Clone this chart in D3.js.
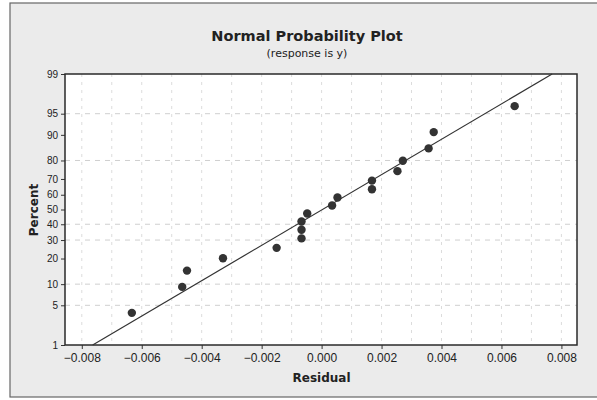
<!DOCTYPE html>
<html>
<head>
<meta charset="utf-8">
<script src="https://cdn.jsdelivr.net/npm/d3@7"></script>
<style>
  body { margin: 0; background: #fff; }
  svg { display: block; font-family: "DejaVu Sans", Verdana, sans-serif; }
</style>
</head>
<body>
<div id="chart"></div>
<script>
// residuals, sorted, and their plotted percents
var residuals = [-0.00633, -0.00465, -0.00449, -0.00329, -0.00150, -0.00067, -0.00067, -0.00067,
    -0.00048, 0.00035, 0.00053, 0.00168, 0.00168, 0.00253, 0.00271, 0.00357, 0.00374, 0.00644];
var percents = [3.8, 9.2, 14.7, 20.1, 25.5, 31.0, 36.4, 41.8, 47.3, 52.7, 58.2, 63.6, 69.0, 74.5,
    79.9, 85.3, 90.8, 96.2];
var xTicks = [-0.008, -0.006, -0.004, -0.002, 0.000, 0.002, 0.004, 0.006, 0.008];
var xGrid = [-0.008, -0.007, -0.006, -0.005, -0.004, -0.003, -0.002, -0.001, 0, 0.001, 0.002,
    0.003, 0.004, 0.005, 0.006, 0.007, 0.008];
var yTicks = [1, 5, 10, 20, 30, 40, 50, 60, 70, 80, 90, 95, 99];
var yGrid = [5, 10, 30, 40, 80, 95];

var svgWidth = 597, svgHeight = 400;
var margins = { top: 74, bottom: 55, left: 65, right: 20 };

// inverse normal cdf (Acklam)
function probit(p) {
    var a = [-39.69683028665376, 220.9460984245205, -275.9285104469687, 138.3577518672690, -30.66479806614716, 2.506628277459239];
    var b = [-54.47609879822406, 161.5858368580409, -155.6989798598866, 66.80131188771972, -13.28068155288572];
    var c = [-0.007784894002430293, -0.3223964580411365, -2.400758277161838, -2.549732539343734, 4.374664141464968, 2.938163982698783];
    var d = [0.007784695709041462, 0.3224671290700398, 2.445134137142996, 3.754408661907416];
    var q, r;
    if (p < 0.02425) {
        q = Math.sqrt(-2 * Math.log(p));
        return (((((c[0]*q+c[1])*q+c[2])*q+c[3])*q+c[4])*q+c[5]) / ((((d[0]*q+d[1])*q+d[2])*q+d[3])*q+1);
    }
    if (p > 1 - 0.02425) {
        q = Math.sqrt(-2 * Math.log(1 - p));
        return -(((((c[0]*q+c[1])*q+c[2])*q+c[3])*q+c[4])*q+c[5]) / ((((d[0]*q+d[1])*q+d[2])*q+d[3])*q+1);
    }
    q = p - 0.5; r = q * q;
    return (((((a[0]*r+a[1])*r+a[2])*r+a[3])*r+a[4])*r+a[5])*q / (((((b[0]*r+b[1])*r+b[2])*r+b[3])*r+b[4])*r+1);
}

var svg = d3.select("#chart").append("svg")
    .attr("width", svgWidth)
    .attr("height", svgHeight);

// outer panel
svg.append("rect")
    .attr("x", 10).attr("y", 3)
    .attr("width", 600).attr("height", 394)
    .attr("fill", "#ebebeb")
    .attr("stroke", "#666")
    .attr("stroke-width", 1.2);

var plotW = svgWidth - margins.left - margins.right;
var plotH = svgHeight - margins.top - margins.bottom;

var xScale = d3.scaleLinear()
    .domain([-0.00856, 0.00852])
    .range([margins.left, margins.left + plotW]);
var yScale = d3.scaleLinear()
    .domain([probit(0.01), probit(0.99)])
    .range([margins.top + plotH, margins.top]);

svg.append("rect")
    .attr("x", margins.left).attr("y", margins.top)
    .attr("width", plotW).attr("height", plotH)
    .attr("fill", "#fff");

// grid
svg.append("g").selectAll("line")
    .data(xGrid)
    .enter()
    .append("line")
    .attr("x1", d => xScale(d)).attr("x2", d => xScale(d))
    .attr("y1", margins.top).attr("y2", margins.top + plotH)
    .attr("stroke", "#dcdcdc")
    .attr("stroke-dasharray", "3,5");
svg.append("g").selectAll("line")
    .data(yGrid)
    .enter()
    .append("line")
    .attr("x1", margins.left).attr("x2", margins.left + plotW)
    .attr("y1", d => yScale(probit(d / 100))).attr("y2", d => yScale(probit(d / 100)))
    .attr("stroke", "#cfcfcf")
    .attr("stroke-dasharray", "5,5");

// axes
var xAxis = d3.axisBottom(xScale)
    .tickValues(xTicks)
    .tickSize(4)
    .tickFormat(d3.format(".3f"));
var yAxis = d3.axisLeft(yScale)
    .tickValues(yTicks.map(p => probit(p / 100)))
    .tickSize(4)
    .tickFormat((d, i) => yTicks[i]);

svg.append("g")
    .attr("transform", `translate(0,${margins.top + plotH})`)
    .call(xAxis)
    .call(g => g.select(".domain").remove())
    .call(g => g.selectAll("line").attr("stroke", "#333"))
    .call(g => g.selectAll("text").attr("fill", "#222").style("font-size", "12px").attr("dy", "0.85em"));
svg.append("g")
    .attr("transform", `translate(${margins.left},0)`)
    .call(yAxis)
    .call(g => g.select(".domain").remove())
    .call(g => g.selectAll("line").attr("stroke", "#333"))
    .call(g => g.selectAll("text").attr("fill", "#222").style("font-size", "10px"));

svg.append("rect")
    .attr("x", margins.left).attr("y", margins.top)
    .attr("width", plotW).attr("height", plotH)
    .attr("fill", "none")
    .attr("stroke", "#2a2a2a")
    .attr("stroke-width", 1.5);

// fitted line from mean and standard deviation
var mu = d3.mean(residuals), sd = d3.deviation(residuals);
var zLo = probit(0.01), zHi = probit(0.99);
svg.append("line")
    .attr("x1", xScale(mu + sd * zLo)).attr("y1", yScale(zLo))
    .attr("x2", xScale(mu + sd * zHi)).attr("y2", yScale(zHi))
    .attr("stroke", "#333")
    .attr("stroke-width", 1.2);

// points
svg.append("g").selectAll("circle")
    .data(residuals)
    .enter()
    .append("circle")
    .attr("cx", d => xScale(d))
    .attr("cy", (d, i) => yScale(probit(percents[i] / 100)))
    .attr("r", 4.2)
    .attr("fill", "#333");

// titles
svg.append("text")
    .attr("x", 307).attr("y", 41)
    .style("text-anchor", "middle")
    .style("font-size", "14.5px")
    .style("font-weight", "bold")
    .attr("fill", "#222")
    .text("Normal Probability Plot");
svg.append("text")
    .attr("x", 307).attr("y", 57)
    .style("text-anchor", "middle")
    .style("font-size", "11px")
    .attr("fill", "#222")
    .text("(response is y)");
svg.append("text")
    .attr("x", xScale(0)).attr("y", 382)
    .style("text-anchor", "middle")
    .style("font-size", "12px")
    .style("font-weight", "bold")
    .attr("fill", "#222")
    .text("Residual");
svg.append("text")
    .attr("transform", "rotate(-90)")
    .attr("x", -210).attr("y", 38)
    .style("text-anchor", "middle")
    .style("font-size", "12px")
    .style("font-weight", "bold")
    .attr("fill", "#222")
    .text("Percent");
</script>
</body>
</html>
